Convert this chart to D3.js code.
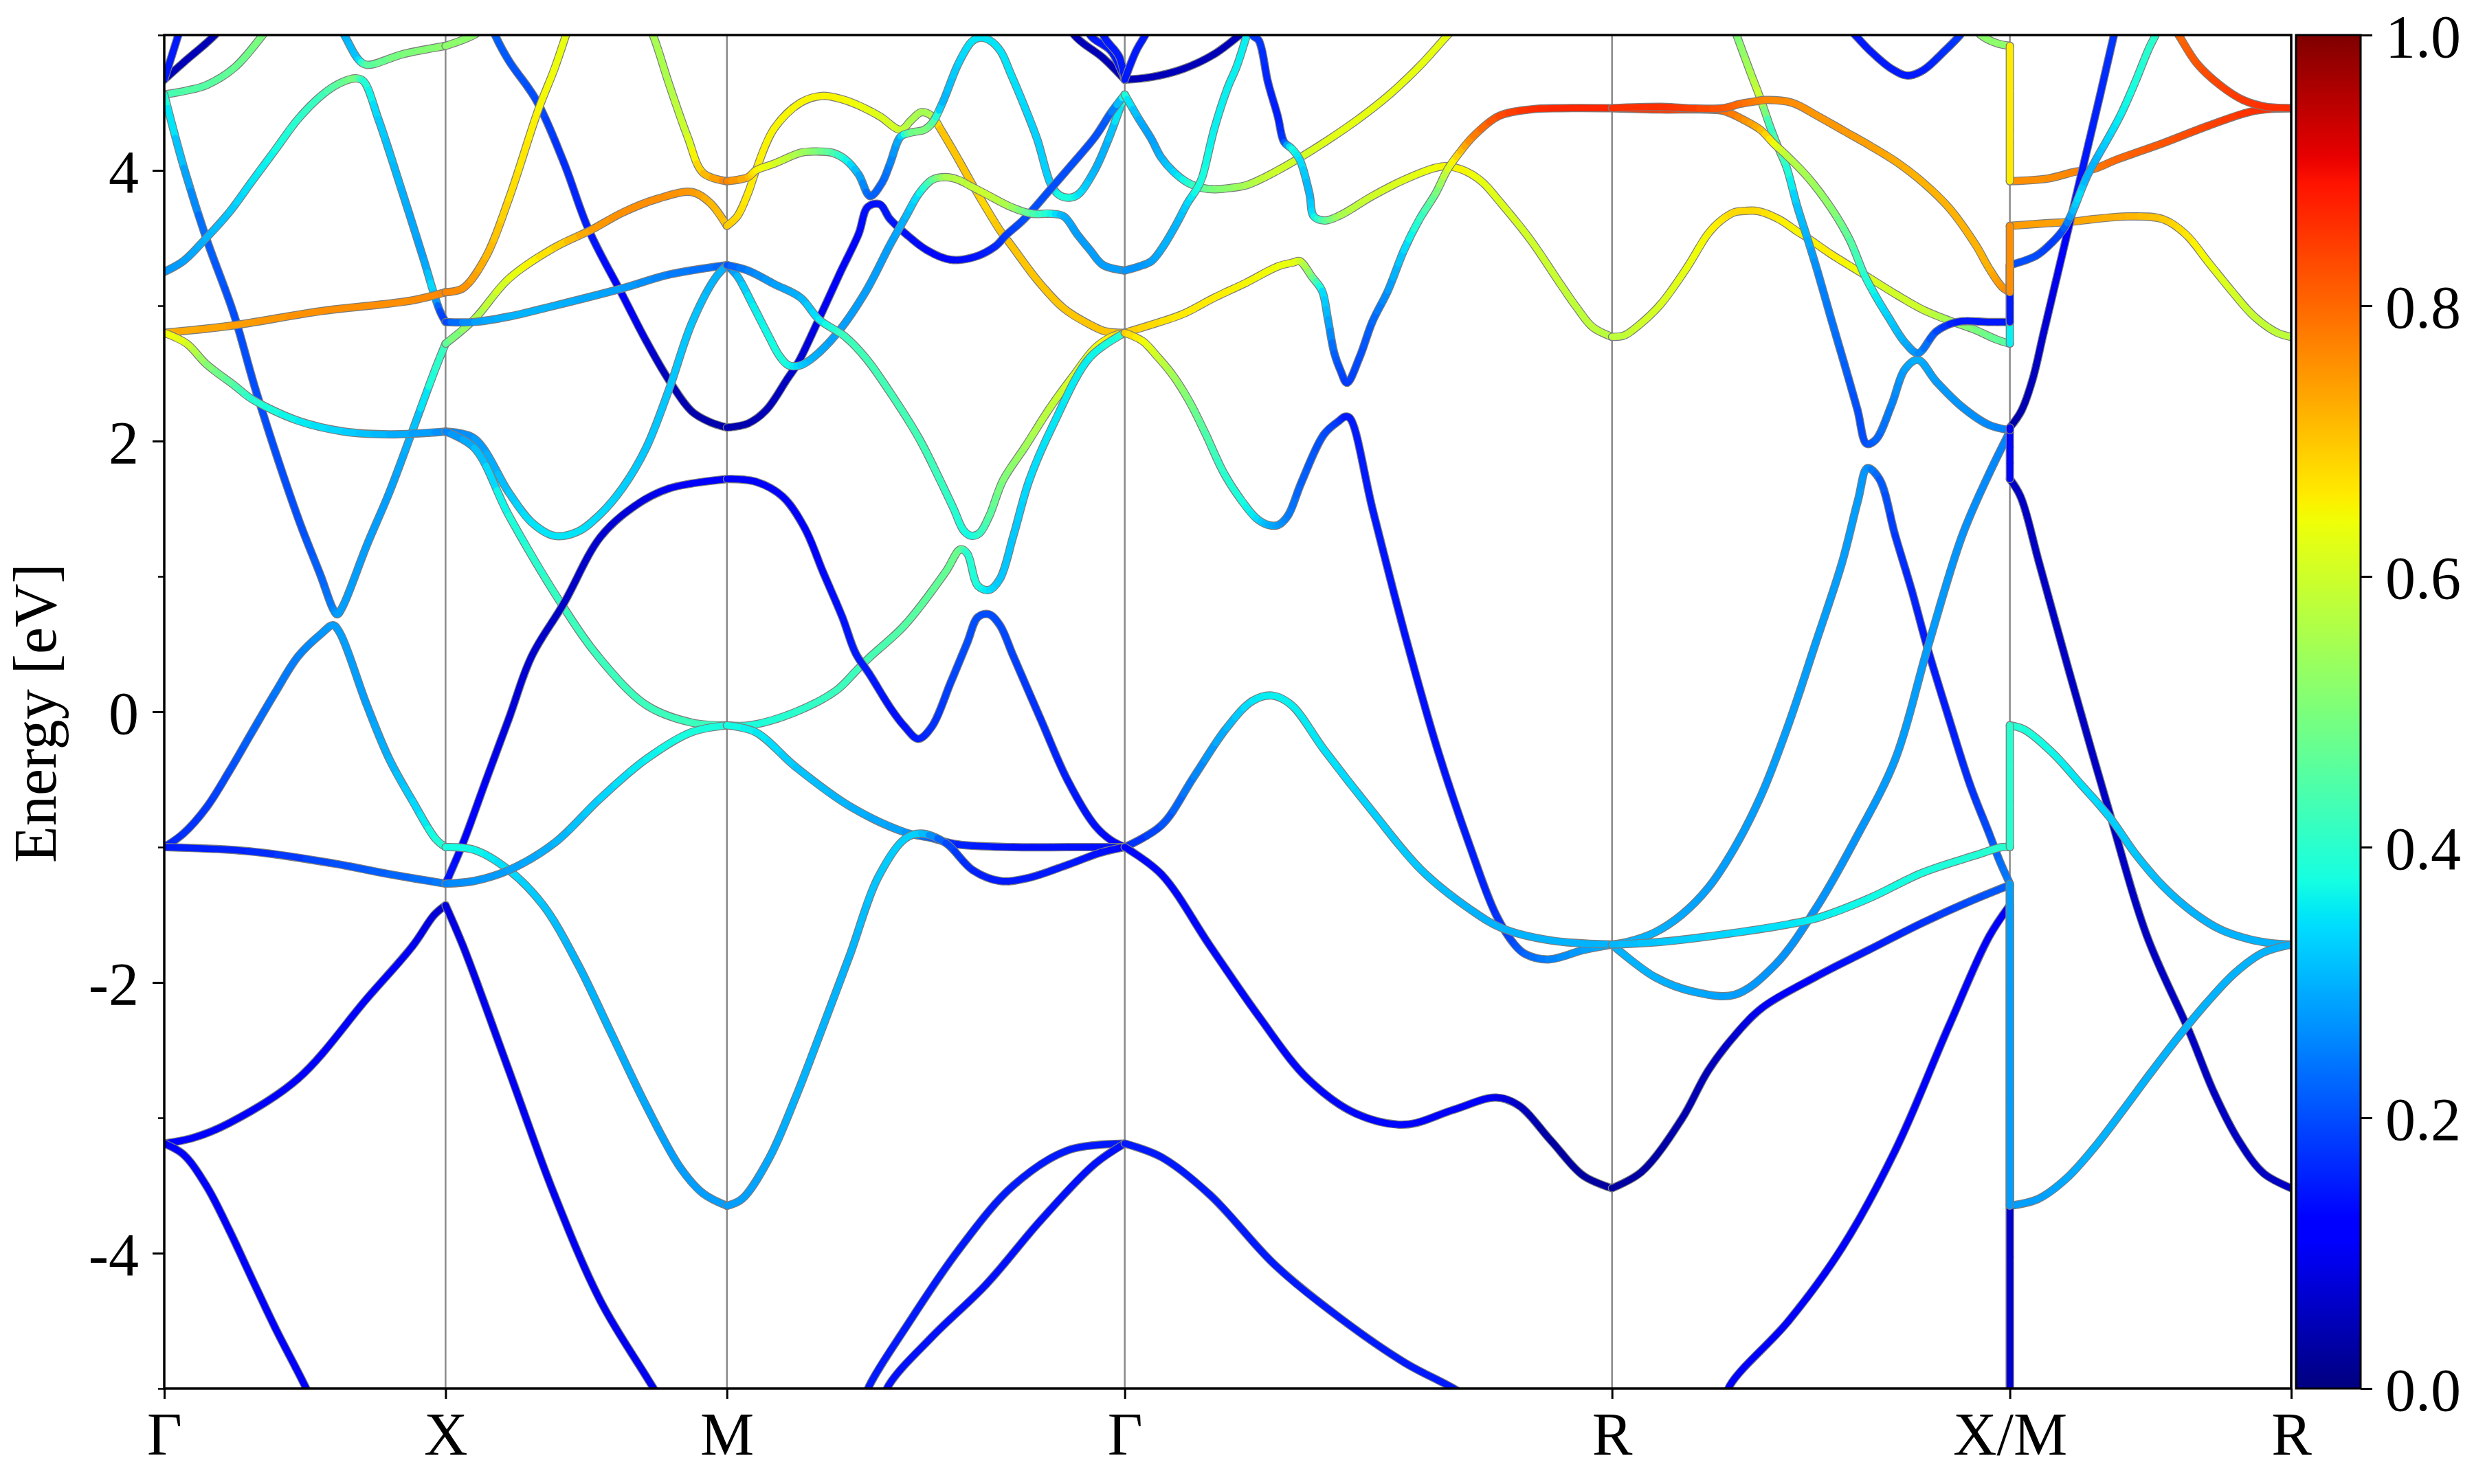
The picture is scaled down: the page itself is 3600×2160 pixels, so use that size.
<!DOCTYPE html>
<html>
<head>
<meta charset="utf-8">
<script src="https://cdn.jsdelivr.net/npm/d3@7"></script>
<style>html,body{margin:0;padding:0;background:#fff;} text{font-family:'Liberation Serif','Times New Roman',Times,serif;}</style>
</head>
<body>
<svg id="chart" width="3600" height="2160" xmlns="http://www.w3.org/2000/svg"></svg>
<script>
// ---------------- DATA ----------------
// high-symmetry k-points (cumulative path length, simple cubic, units of 2π/a)
const kNodes  = [0, 0.5, 1.0, 1.7071, 2.5731, 3.2802, 3.7802];
const kLabels = ["Γ", "X", "M", "Γ", "R", "X/M", "R"];
const energyTicks = [-4, -2, 0, 2, 4];
const energyMinorTicks = [-5, -3, -1, 1, 3, 5];
const weightTicks = [0, 0.2, 0.4, 0.6, 0.8, 1.0];

// each band: list of [t (fraction along segment), energy (eV), weight]
const bandsGX = [
  [[0,4.67,0.05],[0.07,4.8,0.05],[0.18,5.0,0.05],[0.26,5.2,0.05]],
  [[0,4.67,0.15],[0.05,5.0,0.15],[0.08,5.2,0.15]],
  [[0,4.56,0.42],[0.08,4.59,0.45],[0.15,4.63,0.45],[0.25,4.76,0.47],[0.35,5.0,0.5],[0.42,5.2,0.5]],
  [[0.57,5.25,0.3],[0.64,5.0,0.3],[0.69,4.82,0.32],[0.72,4.78,0.45],[0.85,4.86,0.5],[1,4.92,0.52]],
  [[0,4.56,0.4],[0.07,4.02,0.3],[0.149,3.5,0.22],[0.247,2.94,0.2],[0.329,2.35,0.2],[0.476,1.43,0.2],[0.557,1.0,0.22],[0.6,0.76,0.25],[0.615,0.72,0.28],[0.635,0.78,0.28],[0.72,1.23,0.28],[0.8,1.62,0.28],[0.883,2.08,0.3],[0.965,2.54,0.4],[1,2.72,0.42]],
  [[0,-1.0,0.15],[0.068,-0.9,0.17],[0.149,-0.71,0.18],[0.231,-0.44,0.2],[0.312,-0.15,0.22],[0.394,0.14,0.24],[0.476,0.41,0.25],[0.56,0.58,0.27],[0.6,0.64,0.28],[0.625,0.58,0.28],[0.72,0.05,0.28],[0.8,-0.35,0.3],[0.883,-0.66,0.33],[0.965,-0.94,0.38],[1,-1.0,0.4]],
  [[0,-1.0,0.15],[0.3,-1.03,0.16],[0.6,-1.12,0.2],[0.8,-1.2,0.22],[1,-1.27,0.25]],
  [[0,-3.19,0.12],[0.1,-3.15,0.12],[0.23,-3.04,0.12],[0.476,-2.71,0.12],[0.72,-2.12,0.12],[0.883,-1.73,0.1],[0.96,-1.5,0.08],[1,-1.43,0.06]],
  [[0,-3.19,0.12],[0.068,-3.27,0.12],[0.149,-3.5,0.12],[0.231,-3.83,0.12],[0.312,-4.19,0.12],[0.394,-4.55,0.12],[0.5,-4.98,0.12],[0.56,-5.25,0.12]],
  [[0,3.25,0.27],[0.068,3.33,0.28],[0.149,3.5,0.3],[0.231,3.69,0.32],[0.312,3.92,0.35],[0.394,4.15,0.37],[0.476,4.38,0.4],[0.557,4.55,0.42],[0.62,4.64,0.46],[0.68,4.68,0.5],[0.708,4.66,0.4],[0.761,4.38,0.33],[0.843,3.86,0.3],[0.924,3.33,0.28],[0.957,3.1,0.35],[0.98,2.96,0.2],[1,2.88,0.18]],
  [[0,2.8,0.72],[0.23,2.85,0.74],[0.557,2.96,0.76],[0.883,3.04,0.76],[1,3.1,0.77]],
  [[0,2.8,0.66],[0.08,2.72,0.62],[0.149,2.57,0.52],[0.25,2.41,0.45],[0.312,2.31,0.4],[0.476,2.15,0.36],[0.64,2.07,0.33],[0.8,2.05,0.3],[1,2.07,0.26]]
];

const bandsXM = [
  [[0,4.92,0.52],[0.1,5.0,0.52],[0.2,5.15,0.52]],
  [[0.14,5.2,0.22],[0.176,5.0,0.22],[0.225,4.81,0.21],[0.322,4.52,0.2],[0.42,4.06,0.17],[0.509,3.56,0.15],[0.631,3.07,0.12],[0.713,2.74,0.08],[0.794,2.45,0.05],[0.875,2.22,0.04],[0.94,2.14,0.04],[1,2.1,0.04]],
  [[0,3.1,0.77],[0.062,3.13,0.76],[0.143,3.36,0.72],[0.225,3.79,0.68],[0.33,4.45,0.65],[0.387,4.75,0.64],[0.428,5.0,0.63],[0.46,5.2,0.63]],
  [[0,2.72,0.45],[0.102,2.9,0.55],[0.225,3.2,0.62],[0.387,3.43,0.68],[0.517,3.56,0.74],[0.631,3.69,0.76],[0.753,3.79,0.76],[0.875,3.84,0.75],[0.94,3.76,0.72],[1,3.59,0.7]],
  [[0.69,5.2,0.55],[0.737,5.0,0.55],[0.794,4.64,0.56],[0.86,4.25,0.6],[0.916,3.98,0.7],[1,3.92,0.78]],
  [[0,2.88,0.18],[0.102,2.88,0.28],[0.225,2.92,0.3],[0.387,3.0,0.3],[0.631,3.13,0.28],[0.794,3.23,0.25],[1,3.3,0.22]],
  [[0,2.07,0.25],[0.102,2.02,0.27],[0.225,1.62,0.32],[0.306,1.4,0.35],[0.387,1.3,0.35],[0.469,1.33,0.35],[0.55,1.46,0.34],[0.631,1.66,0.33],[0.713,1.95,0.32],[0.794,2.38,0.32],[0.875,2.87,0.32],[0.957,3.2,0.3],[1,3.3,0.3]],
  [[0,2.07,0.25],[0.102,1.95,0.3],[0.225,1.45,0.38],[0.42,0.77,0.42],[0.55,0.39,0.42],[0.713,0.05,0.42],[0.875,-0.08,0.42],[1,-0.1,0.42]],
  [[0,-1.27,0.15],[0.062,-0.97,0.13],[0.143,-0.51,0.1],[0.225,-0.05,0.08],[0.306,0.41,0.07],[0.42,0.8,0.06],[0.55,1.29,0.07],[0.672,1.52,0.08],[0.794,1.65,0.1],[1,1.72,0.12]],
  [[0,-1.0,0.38],[0.102,-1.02,0.37],[0.225,-1.17,0.34],[0.347,-1.43,0.32],[0.469,-1.86,0.3],[0.59,-2.38,0.3],[0.713,-2.91,0.29],[0.835,-3.37,0.28],[0.916,-3.56,0.28],[1,-3.65,0.28]],
  [[0,-1.27,0.25],[0.102,-1.25,0.27],[0.225,-1.17,0.28],[0.387,-0.97,0.3],[0.55,-0.64,0.33],[0.713,-0.35,0.36],[0.875,-0.15,0.38],[1,-0.1,0.38]],
  [[0,-1.43,0.08],[0.062,-1.73,0.09],[0.225,-2.65,0.1],[0.387,-3.57,0.1],[0.55,-4.35,0.1],[0.713,-4.91,0.1],[0.8,-5.2,0.1]]
];

const bandsMG = [
  [[0,3.59,0.7],[0.026,3.66,0.68],[0.053,3.83,0.66],[0.073,4.0,0.66],[0.119,4.31,0.65],[0.185,4.5,0.65],[0.238,4.55,0.65],[0.284,4.53,0.65],[0.331,4.48,0.64],[0.384,4.4,0.62],[0.437,4.3,0.6],[0.463,4.37,0.56],[0.489,4.43,0.55],[0.516,4.4,0.55],[0.536,4.31,0.7],[0.582,4.08,0.7],[0.622,3.87,0.7],[0.648,3.74,0.68],[0.688,3.55,0.7],[0.714,3.45,0.7],[0.78,3.19,0.7],[0.847,2.98,0.7],[0.913,2.86,0.7],[0.952,2.81,0.7],[1,2.8,0.7]],
  [[0,3.92,0.78],[0.053,3.95,0.72],[0.073,4.0,0.66],[0.119,4.05,0.62],[0.185,4.13,0.55],[0.218,4.14,0.52],[0.265,4.13,0.45],[0.298,4.08,0.38],[0.331,3.97,0.3],[0.36,3.81,0.22],[0.39,3.91,0.22],[0.41,4.05,0.25],[0.437,4.25,0.3],[0.463,4.28,0.48],[0.496,4.3,0.5],[0.516,4.35,0.48],[0.542,4.5,0.3],[0.582,4.79,0.33],[0.615,4.95,0.35],[0.635,4.98,0.35],[0.661,4.96,0.35],[0.688,4.88,0.35],[0.714,4.71,0.35],[0.747,4.48,0.34],[0.78,4.23,0.33],[0.817,3.88,0.33],[0.84,3.81,0.38],[0.866,3.8,0.38],[0.886,3.83,0.35],[0.926,4.01,0.3],[0.959,4.23,0.3],[1,4.56,0.4]],
  [[0,2.1,0.04],[0.053,2.13,0.04],[0.099,2.23,0.05],[0.152,2.46,0.06],[0.179,2.58,0.07],[0.231,2.9,0.09],[0.284,3.24,0.12],[0.331,3.53,0.13],[0.354,3.73,0.14],[0.384,3.75,0.14],[0.41,3.64,0.15],[0.45,3.53,0.14],[0.503,3.41,0.13],[0.562,3.34,0.13],[0.622,3.36,0.14],[0.675,3.44,0.16],[0.701,3.52,0.18],[0.747,3.64,0.2],[0.813,3.86,0.2],[0.866,4.04,0.2],[0.926,4.25,0.2],[0.966,4.43,0.22],[1,4.56,0.4]],
  [[0,3.3,0.2],[0.026,3.22,0.3],[0.066,3.0,0.36],[0.106,2.77,0.37],[0.132,2.63,0.38],[0.155,2.56,0.38],[0.185,2.56,0.33],[0.218,2.62,0.3],[0.278,2.8,0.28],[0.35,3.11,0.28],[0.41,3.45,0.28],[0.45,3.66,0.3],[0.483,3.83,0.35],[0.516,3.93,0.45],[0.549,3.95,0.55],[0.582,3.93,0.57],[0.615,3.88,0.58],[0.648,3.83,0.6],[0.714,3.73,0.55],[0.767,3.68,0.45],[0.813,3.68,0.38],[0.847,3.66,0.3],[0.88,3.53,0.28],[0.913,3.41,0.28],[0.946,3.3,0.28],[1,3.26,0.28]],
  [[0,3.3,0.2],[0.053,3.26,0.25],[0.119,3.16,0.28],[0.185,3.06,0.3],[0.231,2.9,0.35],[0.278,2.81,0.4],[0.298,2.77,0.42],[0.35,2.61,0.43],[0.417,2.33,0.43],[0.483,2.02,0.43],[0.536,1.71,0.42],[0.57,1.5,0.4],[0.595,1.34,0.38],[0.615,1.3,0.37],[0.635,1.32,0.4],[0.66,1.45,0.45],[0.694,1.71,0.5],[0.75,1.96,0.54],[0.813,2.25,0.58],[0.87,2.48,0.61],[0.926,2.69,0.63],[0.966,2.77,0.66],[1,2.8,0.68]],
  [[0,-0.1,0.38],[0.058,-0.1,0.38],[0.174,0.0,0.4],[0.276,0.16,0.42],[0.324,0.3,0.42],[0.358,0.4,0.43],[0.447,0.64,0.45],[0.549,1.03,0.47],[0.587,1.2,0.48],[0.604,1.17,0.4],[0.631,0.93,0.38],[0.659,0.9,0.35],[0.686,0.98,0.32],[0.72,1.3,0.32],[0.76,1.71,0.34],[0.82,2.12,0.35],[0.913,2.62,0.36],[1,2.8,0.4]],
  [[0,1.72,0.12],[0.072,1.7,0.11],[0.14,1.59,0.11],[0.195,1.36,0.12],[0.242,1.03,0.13],[0.29,0.7,0.14],[0.324,0.43,0.15],[0.358,0.28,0.15],[0.413,0.02,0.14],[0.447,-0.11,0.14],[0.481,-0.2,0.15],[0.515,-0.11,0.17],[0.563,0.22,0.19],[0.604,0.51,0.2],[0.631,0.7,0.2],[0.659,0.72,0.2],[0.686,0.64,0.2],[0.72,0.41,0.19],[0.788,-0.05,0.17],[0.857,-0.51,0.15],[0.925,-0.84,0.14],[0.966,-0.95,0.13],[1,-1.0,0.12]],
  [[0,-0.1,0.38],[0.072,-0.15,0.36],[0.174,-0.41,0.32],[0.31,-0.7,0.3],[0.447,-0.89,0.28],[0.51,-0.93,0.22],[0.58,-0.98,0.16],[0.72,-1.0,0.14],[0.86,-1.0,0.14],[1,-1.0,0.14]],
  [[0,-3.65,0.28],[0.038,-3.6,0.28],[0.106,-3.3,0.29],[0.174,-2.84,0.3],[0.242,-2.32,0.3],[0.31,-1.79,0.3],[0.379,-1.23,0.32],[0.447,-0.94,0.33],[0.488,-0.9,0.33],[0.55,-0.97,0.2],[0.618,-1.17,0.16],[0.686,-1.25,0.15],[0.754,-1.23,0.15],[0.857,-1.13,0.15],[0.94,-1.04,0.14],[1,-1.0,0.13]],
  [[0.33,-5.2,0.15],[0.358,-4.98,0.15],[0.447,-4.56,0.15],[0.584,-3.97,0.15],[0.72,-3.5,0.15],[0.857,-3.24,0.15],[1,-3.19,0.15]],
  [[0.38,-5.2,0.14],[0.406,-4.98,0.14],[0.515,-4.62,0.14],[0.652,-4.23,0.14],[0.788,-3.76,0.14],[0.925,-3.34,0.14],[1,-3.19,0.14]],
  [[0.84,5.2,0.05],[0.873,5.0,0.05],[0.946,4.83,0.05],[1,4.67,0.05]],
  [[0.895,5.2,0.15],[0.913,5.0,0.15],[0.966,4.88,0.15],[1,4.67,0.15]],
  [[0.935,5.2,0.15],[0.946,5.0,0.15],[0.986,4.84,0.15],[1,4.67,0.15]]
];

const bandsGR = [
  [[0,4.67,0.05],[0.055,4.69,0.05],[0.12,4.75,0.05],[0.184,4.86,0.05],[0.236,5.0,0.05],[0.27,5.1,0.05]],
  [[0,4.67,0.15],[0.023,4.88,0.15],[0.042,5.0,0.15],[0.055,5.1,0.15]],
  [[0,4.56,0.4],[0.029,4.38,0.3],[0.055,4.23,0.28],[0.074,4.1,0.3],[0.1,3.99,0.33],[0.129,3.91,0.38],[0.159,3.87,0.45],[0.184,3.86,0.5],[0.217,3.87,0.52],[0.249,3.89,0.55],[0.282,3.94,0.58],[0.314,4.0,0.6],[0.353,4.08,0.6],[0.411,4.21,0.62],[0.476,4.37,0.63],[0.54,4.55,0.63],[0.605,4.77,0.63],[0.663,5.0,0.63],[0.69,5.1,0.63]],
  [[0,3.26,0.27],[0.029,3.29,0.27],[0.055,3.33,0.28],[0.081,3.45,0.3],[0.107,3.61,0.3],[0.129,3.76,0.33],[0.149,3.87,0.38],[0.159,3.95,0.38],[0.184,4.31,0.36],[0.21,4.6,0.36],[0.23,4.77,0.36],[0.249,4.98,0.36],[0.26,5.1,0.36]],
  [[0.255,5.15,0.18],[0.262,5.0,0.18],[0.275,4.96,0.18],[0.294,4.65,0.16],[0.314,4.4,0.15],[0.327,4.21,0.18],[0.343,4.16,0.38],[0.359,4.08,0.35],[0.379,3.83,0.3],[0.388,3.66,0.35],[0.411,3.63,0.45],[0.443,3.67,0.55],[0.508,3.81,0.6],[0.573,3.93,0.62],[0.638,4.02,0.64],[0.663,4.03,0.65],[0.702,3.99,0.65],[0.735,3.91,0.63],[0.767,3.78,0.62],[0.832,3.49,0.6],[0.896,3.15,0.59],[0.929,2.98,0.58],[0.961,2.84,0.58],[1,2.77,0.57]],
  [[0,2.8,0.7],[0.055,2.86,0.68],[0.12,2.94,0.66],[0.184,3.06,0.66],[0.249,3.17,0.65],[0.314,3.29,0.64],[0.346,3.32,0.63],[0.359,3.33,0.62],[0.385,3.21,0.5],[0.405,3.11,0.35],[0.417,2.9,0.3],[0.43,2.65,0.22],[0.443,2.52,0.2],[0.456,2.43,0.18],[0.482,2.62,0.2],[0.508,2.88,0.22],[0.54,3.11,0.27],[0.573,3.41,0.33],[0.605,3.64,0.4],[0.638,3.83,0.48],[0.663,4.01,0.6],[0.689,4.14,0.7],[0.715,4.25,0.77],[0.767,4.4,0.83],[0.832,4.45,0.86],[0.896,4.46,0.87],[1,4.46,0.87]],
  [[0,2.8,0.7],[0.036,2.74,0.65],[0.068,2.62,0.6],[0.1,2.48,0.55],[0.133,2.29,0.5],[0.165,2.06,0.45],[0.204,1.76,0.4],[0.24,1.56,0.38],[0.27,1.43,0.35],[0.295,1.38,0.3],[0.315,1.38,0.28],[0.335,1.45,0.25],[0.362,1.69,0.22],[0.409,2.05,0.2],[0.44,2.15,0.18],[0.452,2.18,0.15],[0.462,2.17,0.15],[0.509,1.49,0.15],[0.575,0.57,0.14],[0.642,-0.28,0.14],[0.709,-1.0,0.15],[0.762,-1.5,0.17],[0.8,-1.72,0.2],[0.822,-1.79,0.22],[0.869,-1.83,0.25],[0.942,-1.76,0.28],[1,-1.72,0.3]],
  [[0,-1.0,0.15],[0.075,-0.84,0.2],[0.142,-0.48,0.25],[0.209,-0.12,0.3],[0.262,0.08,0.35],[0.302,0.12,0.36],[0.342,0.05,0.36],[0.409,-0.28,0.35],[0.509,-0.74,0.33],[0.609,-1.17,0.32],[0.709,-1.46,0.3],[0.775,-1.6,0.3],[0.875,-1.69,0.3],[1,-1.72,0.3]],
  [[0,-1.0,0.13],[0.075,-1.2,0.13],[0.175,-1.73,0.13],[0.275,-2.25,0.13],[0.375,-2.71,0.13],[0.475,-2.97,0.13],[0.575,-3.05,0.13],[0.675,-2.94,0.12],[0.762,-2.85,0.1],[0.809,-2.91,0.06],[0.875,-3.17,0.03],[0.942,-3.43,0.03],[1,-3.52,0.03]],
  [[0,-3.19,0.15],[0.075,-3.29,0.15],[0.175,-3.57,0.15],[0.309,-4.09,0.15],[0.442,-4.48,0.15],[0.575,-4.81,0.15],[0.675,-5.0,0.15],[0.74,-5.15,0.15]]
];

const bandsRX = [
  [[0,2.77,0.58],[0.03,2.78,0.58],[0.069,2.86,0.6],[0.122,3.01,0.61],[0.188,3.28,0.63],[0.241,3.53,0.65],[0.274,3.63,0.66],[0.307,3.69,0.68],[0.333,3.7,0.68],[0.366,3.7,0.68],[0.419,3.64,0.66],[0.465,3.55,0.65],[0.492,3.5,0.65],[0.551,3.38,0.66],[0.617,3.26,0.64],[0.65,3.2,0.62],[0.716,3.08,0.6],[0.782,2.97,0.6],[0.848,2.89,0.55],[0.914,2.82,0.5],[0.967,2.75,0.47],[1,2.72,0.45]],
  [[0.3,5.1,0.5],[0.313,5.0,0.5],[0.347,4.73,0.55],[0.373,4.53,0.6],[0.399,4.31,0.4],[0.419,4.16,0.48],[0.439,4.02,0.4],[0.465,3.74,0.32],[0.492,3.49,0.3],[0.518,3.24,0.26],[0.551,2.9,0.24],[0.584,2.57,0.22],[0.617,2.23,0.2],[0.64,1.98,0.2],[0.663,2.01,0.22],[0.703,2.27,0.25],[0.736,2.53,0.28],[0.769,2.6,0.3],[0.815,2.44,0.28],[0.881,2.25,0.27],[0.947,2.12,0.26],[1,2.08,0.25]],
  [[0,4.46,0.86],[0.122,4.45,0.85],[0.221,4.45,0.83],[0.28,4.44,0.8],[0.333,4.37,0.76],[0.373,4.3,0.72],[0.406,4.2,0.65],[0.439,4.11,0.58],[0.492,3.95,0.55],[0.551,3.72,0.52],[0.597,3.49,0.46],[0.634,3.23,0.4],[0.663,3.07,0.36],[0.696,2.91,0.33],[0.736,2.73,0.3],[0.769,2.65,0.27],[0.815,2.81,0.2],[0.868,2.88,0.15],[0.947,2.88,0.15],[1,2.88,0.15]],
  [[0,4.46,0.86],[0.122,4.47,0.86],[0.188,4.46,0.85],[0.28,4.46,0.82],[0.32,4.49,0.8],[0.36,4.51,0.78],[0.386,4.52,0.77],[0.452,4.5,0.76],[0.518,4.4,0.75],[0.584,4.29,0.75],[0.65,4.18,0.74],[0.716,4.06,0.73],[0.782,3.91,0.72],[0.848,3.72,0.72],[0.914,3.45,0.72],[0.947,3.28,0.72],[0.98,3.14,0.75],[1,3.1,0.77]],
  [[0.58,5.1,0.15],[0.611,5.0,0.15],[0.65,4.88,0.15],[0.703,4.75,0.15],[0.743,4.7,0.15],[0.782,4.74,0.15],[0.835,4.88,0.17],[0.875,5.0,0.18],[0.9,5.1,0.18]],
  [[0.9,5.1,0.52],[0.927,5.0,0.52],[0.967,4.94,0.52],[1,4.92,0.52]],
  [[0,-1.72,0.3],[0.04,-1.7,0.3],[0.108,-1.63,0.3],[0.175,-1.5,0.29],[0.242,-1.3,0.28],[0.309,-1.0,0.28],[0.376,-0.61,0.28],[0.444,-0.09,0.28],[0.511,0.5,0.28],[0.578,1.1,0.28],[0.618,1.56,0.28],[0.642,1.8,0.27],[0.672,1.72,0.22],[0.712,1.3,0.18],[0.753,0.9,0.16],[0.793,0.47,0.15],[0.847,-0.05,0.15],[0.9,-0.54,0.17],[0.948,-0.9,0.2],[0.974,-1.1,0.23],[1,-1.27,0.25]],
  [[0,-1.72,0.3],[0.108,-1.96,0.3],[0.208,-2.07,0.29],[0.309,-2.09,0.28],[0.41,-1.87,0.27],[0.511,-1.46,0.27],[0.612,-0.94,0.27],[0.712,-0.35,0.28],[0.793,0.47,0.28],[0.88,1.3,0.27],[0.948,1.76,0.26],[1,2.07,0.25]],
  [[0,-1.72,0.3],[0.121,-1.7,0.32],[0.242,-1.66,0.33],[0.444,-1.57,0.35],[0.52,-1.52,0.36],[0.645,-1.38,0.37],[0.78,-1.19,0.38],[0.914,-1.06,0.39],[0.98,-1.0,0.4],[1,-1.0,0.4]],
  [[0,-3.52,0.03],[0.074,-3.4,0.03],[0.175,-3.01,0.04],[0.242,-2.65,0.05],[0.309,-2.39,0.07],[0.376,-2.19,0.1],[0.511,-1.96,0.13],[0.645,-1.76,0.15],[0.78,-1.56,0.17],[0.9,-1.4,0.2],[1,-1.28,0.22]],
  [[0.28,-5.15,0.12],[0.296,-4.98,0.12],[0.444,-4.5,0.12],[0.578,-3.96,0.12],[0.712,-3.24,0.12],[0.847,-2.32,0.12],[0.948,-1.66,0.12],[1,-1.43,0.1]]
];

const bandsMR = [
  [[0,3.92,0.76],[0.135,3.94,0.76],[0.233,3.99,0.77],[0.298,4.01,0.78],[0.38,4.08,0.8],[0.543,4.2,0.82],[0.706,4.33,0.84],[0.869,4.44,0.86],[1,4.46,0.86]],
  [[0.57,5.1,0.8],[0.6,5.0,0.8],[0.665,4.79,0.82],[0.747,4.63,0.84],[0.829,4.52,0.85],[0.91,4.47,0.86],[1,4.46,0.86]],
  [[0,3.59,0.75],[0.135,3.61,0.74],[0.216,3.62,0.74],[0.298,3.64,0.73],[0.42,3.66,0.72],[0.543,3.64,0.7],[0.624,3.53,0.67],[0.706,3.32,0.64],[0.788,3.11,0.61],[0.869,2.92,0.59],[0.951,2.8,0.58],[1,2.77,0.58]],
  [[0,2.1,0.03],[0.04,2.22,0.04],[0.08,2.45,0.05],[0.12,2.8,0.07],[0.16,3.15,0.09],[0.2,3.5,0.12],[0.24,3.85,0.14],[0.28,4.2,0.15],[0.32,4.55,0.16],[0.37,5.0,0.18],[0.39,5.17,0.18]],
  [[0,3.3,0.2],[0.094,3.37,0.2],[0.151,3.47,0.18],[0.192,3.57,0.2],[0.224,3.7,0.3],[0.249,3.83,0.35],[0.273,3.95,0.3],[0.306,4.08,0.3],[0.347,4.23,0.33],[0.396,4.42,0.36],[0.445,4.65,0.38],[0.494,4.9,0.4],[0.518,5.0,0.4],[0.54,5.1,0.4]],
  [[0,1.72,0.06],[0.038,1.59,0.06],[0.104,1.1,0.06],[0.213,0.28,0.06],[0.355,-0.75,0.06],[0.486,-1.65,0.06],[0.639,-2.37,0.06],[0.727,-2.82,0.06],[0.814,-3.17,0.06],[0.902,-3.41,0.06],[1,-3.52,0.06]],
  [[0,-0.1,0.4],[0.05,-0.13,0.39],[0.15,-0.3,0.37],[0.25,-0.53,0.35],[0.355,-0.78,0.33],[0.45,-1.06,0.32],[0.55,-1.3,0.31],[0.65,-1.48,0.3],[0.75,-1.61,0.3],[0.85,-1.68,0.3],[0.93,-1.71,0.3],[1,-1.72,0.3]],
  [[0,-3.65,0.28],[0.1,-3.6,0.28],[0.2,-3.45,0.29],[0.3,-3.22,0.3],[0.4,-2.95,0.3],[0.5,-2.67,0.3],[0.6,-2.4,0.3],[0.7,-2.15,0.3],[0.8,-1.93,0.3],[0.9,-1.78,0.3],[1,-1.72,0.3]]
];

// vertical jumps at the X/M discontinuity: [E at X, E at M, weight]
const connectorsXM = [
  [-1.43,-5.4,0.1],[-1.28,-5.4,0.07],[-1.27,-3.65,0.28],[-1.0,-0.1,0.4],
  [2.07,1.72,0.13],[2.08,2.1,0.1],[2.72,3.3,0.36],[2.88,3.3,0.15],[3.1,3.59,0.76],[4.92,3.92,0.66]
];

// ---------------- RENDER ----------------
const svg = d3.select("#chart");
const PL = 239, PR = 3334, PT = 51, PB = 2021;
const fontFam = "'Liberation Serif','Times New Roman',Times,serif";

const x = d3.scaleLinear().domain([kNodes[0], kNodes[kNodes.length-1]]).range([PL, PR]);
const y = d3.scaleLinear().domain([-5, 5]).range([PB, PT]);
const cbScale = d3.scaleLinear().domain([0, 1]).range([PB, PT]);

const jetR = d3.scaleLinear().domain([0,0.35,0.66,0.89,1]).range([0,0,1,1,0.5]).clamp(true);
const jetG = d3.scaleLinear().domain([0,0.125,0.375,0.64,0.91,1]).range([0,0,1,1,0,0]).clamp(true);
const jetB = d3.scaleLinear().domain([0,0.11,0.34,0.65,1]).range([0.5,1,1,0,0]).clamp(true);
function jet(v) {
  v = Math.max(0, Math.min(1, v));
  return d3.rgb(Math.round(jetR(v)*255), Math.round(jetG(v)*255), Math.round(jetB(v)*255)).formatHex();
}

const defs = svg.append("defs");
defs.append("clipPath").attr("id", "plotclip")
  .append("rect").attr("x", PL).attr("y", PT).attr("width", PR-PL).attr("height", PB-PT);

svg.append("rect").attr("x",0).attr("y",0).attr("width",3600).attr("height",2160).attr("fill","#fff");

// vertical high-symmetry lines
svg.append("g").selectAll("line").data(kNodes.slice(1, -1)).join("line")
  .attr("x1", d => x(d)).attr("x2", d => x(d)).attr("y1", PT).attr("y2", PB)
  .attr("stroke", "#8a8a8a").attr("stroke-width", 2.5);

function kOf(seg, t) { return kNodes[seg] + t * (kNodes[seg+1] - kNodes[seg]); }

const allBands = [];
[bandsGX, bandsXM, bandsMG, bandsGR, bandsRX, bandsMR].forEach((list, seg) => {
  list.forEach(b => allBands.push(b.map(p => ({k: kOf(seg, p[0]), e: p[1], w: p[2]}))));
});
connectorsXM.forEach(c => allBands.push([{k: kNodes[5], e: c[0], w: c[2]}, {k: kNodes[5], e: c[1], w: c[2]}]));

const lineGen = d3.line().x(d => x(d.k)).y(d => y(d.e)).curve(d3.curveCatmullRom.alpha(0.5));

function recorder() {
  const segs = []; let cx = 0, cy = 0;
  return {
    segs,
    moveTo(px, py) { cx = px; cy = py; },
    lineTo(px, py) { segs.push([[cx,cy],[cx+(px-cx)/3, cy+(py-cy)/3],[cx+2*(px-cx)/3, cy+2*(py-cy)/3],[px,py]]); cx = px; cy = py; },
    bezierCurveTo(x1, y1, x2, y2, px, py) { segs.push([[cx,cy],[x1,y1],[x2,y2],[px,py]]); cx = px; cy = py; },
    closePath() {}
  };
}
const lerp = (a, b, t) => [a[0] + (b[0]-a[0])*t, a[1] + (b[1]-a[1])*t];
function splitAt(P, t) {
  const p01 = lerp(P[0],P[1],t), p12 = lerp(P[1],P[2],t), p23 = lerp(P[2],P[3],t);
  const p012 = lerp(p01,p12,t), p123 = lerp(p12,p23,t), p = lerp(p012,p123,t);
  return [[P[0],p01,p012,p],[p,p123,p23,P[3]]];
}
function subCurve(P, a, b) {
  const right = a > 0 ? splitAt(P, a)[1] : P;
  const tt = a < 1 ? (b - a) / (1 - a) : 1;
  return tt < 1 ? splitAt(right, tt)[0] : right;
}
const f = v => v.toFixed(2);

const gBands = svg.append("g").attr("clip-path", "url(#plotclip)");
allBands.forEach(band => {
  const g = gBands.append("g");
  g.append("path").attr("d", lineGen(band)).attr("fill", "none")
    .attr("stroke", "#7c7c7c").attr("stroke-width", 12)
    .attr("stroke-linecap", "round").attr("stroke-linejoin", "round");
  const rec = recorder();
  lineGen.context(rec)(band);
  lineGen.context(null);
  rec.segs.forEach((P, i) => {
    const w0 = band[i].w, w1 = band[Math.min(i+1, band.length-1)].w;
    const N = 3;
    for (let j = 0; j < N; j++) {
      const a = j / N, b = (j + 1) / N;
      const Q = subCurve(P, a, b);
      const w = w0 + (w1 - w0) * (a + b) / 2;
      g.append("path")
        .attr("d", `M${f(Q[0][0])},${f(Q[0][1])}C${f(Q[1][0])},${f(Q[1][1])} ${f(Q[2][0])},${f(Q[2][1])} ${f(Q[3][0])},${f(Q[3][1])}`)
        .attr("fill", "none").attr("stroke", jet(w)).attr("stroke-width", 9.5)
        .attr("stroke-linecap", "round");
    }
  });
});

// frame
svg.append("rect").attr("x", PL).attr("y", PT).attr("width", PR-PL).attr("height", PB-PT)
  .attr("fill", "none").attr("stroke", "#000").attr("stroke-width", 3.5);

function styleAxis(g) {
  g.select(".domain").remove();
  g.attr("font-size", 88).attr("font-family", fontFam);
  g.selectAll("line").attr("stroke", "#000").attr("stroke-width", 3);
  g.selectAll("text").attr("fill", "#000").style("font-family", fontFam).style("font-size", "88px");
}

// y axis
const fmtE = d => String(d);   // hyphen-minus like the reference
const gy = svg.append("g").attr("transform", `translate(${PL},0)`)
  .call(d3.axisLeft(y).tickValues(energyTicks).tickSize(17).tickSizeOuter(0).tickPadding(20).tickFormat(fmtE));
styleAxis(gy);
gy.selectAll("text").attr("dy", "0.36em");

const gym = svg.append("g").attr("transform", `translate(${PL},0)`)
  .call(d3.axisLeft(y).tickValues(energyMinorTicks).tickSize(9).tickSizeOuter(0).tickFormat(() => ""));
gym.select(".domain").remove();
gym.selectAll("line").attr("stroke", "#000").attr("stroke-width", 2.5);

// x axis
const gx = svg.append("g").attr("transform", `translate(0,${PB})`)
  .call(d3.axisBottom(x).tickValues(kNodes).tickSize(15).tickSizeOuter(0).tickPadding(19).tickFormat((d, i) => kLabels[i]));
styleAxis(gx);

// y label
svg.append("text").attr("transform", "translate(81,1038) rotate(-90)")
  .attr("text-anchor", "middle").style("font-family", fontFam).style("font-size", "88px")
  .attr("fill", "#000").text("Energy [eV]");

// colorbar
const grad = defs.append("linearGradient").attr("id", "jetgrad")
  .attr("x1", 0).attr("y1", 1).attr("x2", 0).attr("y2", 0);
d3.range(0, 1.00001, 0.005).forEach(v => grad.append("stop").attr("offset", v).attr("stop-color", jet(v)));
const CBX = 3341, CBW = 94;
svg.append("rect").attr("x", CBX).attr("y", PT).attr("width", CBW).attr("height", PB-PT)
  .attr("fill", "url(#jetgrad)").attr("stroke", "#000").attr("stroke-width", 3);
const gc = svg.append("g").attr("transform", `translate(${CBX+CBW},0)`)
  .call(d3.axisRight(cbScale).tickValues(weightTicks).tickSize(17).tickSizeOuter(0).tickPadding(19).tickFormat(d3.format(".1f")));
styleAxis(gc);
gc.selectAll("text").attr("dy", "0.36em");
</script>
</body>
</html>
